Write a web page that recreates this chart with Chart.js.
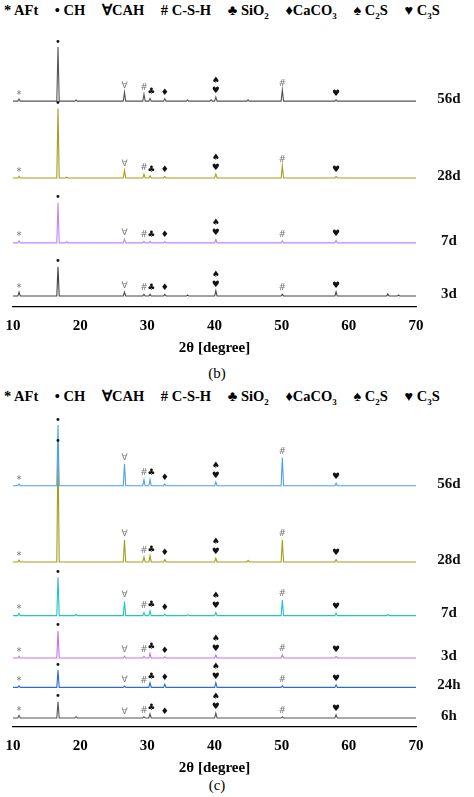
<!DOCTYPE html><html><head><meta charset="utf-8">
<script src="https://cdn.jsdelivr.net/npm/chart.js@4"></script>
<style>
body{margin:0;background:#fff;width:474px;height:797px;position:relative;overflow:hidden;font-family:"Liberation Serif",serif}
.lg{position:absolute;left:4px;font-weight:bold;font-size:14.5px;white-space:nowrap;word-spacing:0}
.lg span{margin-right:13px}
.cap{position:absolute;width:474px;text-align:center;font-size:15px;font-weight:bold}
canvas{position:absolute;left:0}
</style></head><body>
<div class="lg" style="top:2px">* AFt <span></span>• CH <span></span>∀CAH <span></span># C-S-H <span></span>♣ SiO<sub style="font-size:9px">2</sub> <span></span>♦CaCO<sub style="font-size:9px">3</sub> <span></span>♠ C<sub style="font-size:9px">2</sub>S <span></span>♥ C<sub style="font-size:9px">3</sub>S</div>
<div class="cap" style="top:365px;left:-20px;font-weight:normal">(b)</div>
<div class="lg" style="top:388px">* AFt <span></span>• CH <span></span>∀CAH <span></span># C-S-H <span></span>♣ SiO<sub style="font-size:9px">2</sub> <span></span>♦CaCO<sub style="font-size:9px">3</sub> <span></span>♠ C<sub style="font-size:9px">2</sub>S <span></span>♥ C<sub style="font-size:9px">3</sub>S</div>
<div class="cap" style="top:777px;left:-20px;font-weight:normal">(c)</div>
<canvas id="cb" style="top:0"></canvas>
<canvas id="cc" style="top:398px"></canvas>
<script>
// panel (b)
const labelsB=["56d","28d","7d","3d"];
const basesB=[77.1,48.3,24,4.1];
const colorsB=["#555555","#a0a020","#c484f4","#444444"];
const peaksB=[
 [[10.9,0.8],[16.7,20.3],[19.4,0.4],[26.6,3.3],[29.5,2.6],[30.4,1.0],[32.6,0.9],[36.0,0.4],[39.5,0.5],[40.2,1.5],[45.0,0.5],[50.1,4.2],[58.1,0.5]],
 [[10.9,0.6],[16.7,26],[18.0,0.3],[26.6,2.8],[29.5,1.5],[30.4,0.8],[32.6,0.6],[40.2,1.5],[50.1,4.5],[58.1,0.6]],
 [[10.9,0.8],[16.7,15],[18.0,0.5],[26.6,1.4],[29.5,0.6],[30.4,0.6],[32.6,0.5],[40.2,1.3],[50.1,0.8],[58.1,1.0]],
 [[10.9,1.5],[16.7,11],[26.6,1.5],[29.5,0.6],[30.4,0.7],[32.6,0.6],[36.0,0.4],[40.2,2.0],[50.1,0.7],[58.1,1.6],[65.8,0.8],[67.4,0.4]]
];
const marksB=labelsB.map(()=>[[10.9,"*"],[16.7,"•"],[26.6,"∀"],[29.5,"#"],[30.6,"♣"],[32.6,"♦"],[40.2,"♥"],[40.2,"♠"],[50.1,"#"],[58.1,"♥"]]);
// panel (c)
const labelsC=["56d","28d","7d","3d","24h","6h"];
const basesC=[77.3,52.9,35.7,22.1,12.7,2.9];
const colorsC=["#4f9fe6","#a0a020","#22c4c4","#c474e4","#2a6cd0","#555555"];
const peaksC=[
 [[10.9,0.6],[16.7,19.5],[26.6,7],[29.5,2],[30.4,2],[32.6,0.6],[40.2,1.2],[50.1,9],[58.1,0.8]],
 [[10.9,0.6],[16.7,37],[26.6,7],[29.5,1.5],[30.4,2],[32.6,0.8],[40.2,1.2],[45.0,0.5],[50.1,7],[58.1,0.8]],
 [[10.9,0.7],[16.7,12.3],[19.4,0.5],[26.6,4.5],[29.5,1.0],[30.4,1.5],[32.6,0.5],[36.0,0.3],[40.2,1.0],[50.1,5],[58.1,0.8],[65.8,0.4]],
 [[10.9,0.5],[16.7,8.7],[26.6,0.6],[29.5,0.5],[30.4,1.5],[32.6,0.4],[40.2,1.0],[50.1,1.0],[58.1,0.5]],
 [[10.9,0.5],[16.7,5.5],[26.6,0.4],[30.4,1.5],[32.6,1.0],[40.2,1.5],[50.1,0.5],[58.1,0.8]],
 [[10.9,0.8],[16.7,5.2],[19.4,0.4],[29.5,0.4],[30.4,1.3],[40.2,1.5],[50.1,0.3],[58.1,1.0]]
];
const marksC=labelsC.map(()=>[[10.9,"*"],[16.7,"•"],[26.6,"∀"],[29.5,"#"],[30.6,"♣"],[32.6,"♦"],[40.2,"♥"],[40.2,"♠"],[50.1,"#"],[58.1,"♥"]]);
const xTicks=[10,20,30,40,50,60,70];

function trace(base,peaks){
  const pts=[{x:10,y:base}];
  peaks.forEach(([p,h])=>{pts.push({x:p-0.18,y:base},{x:p,y:base+h},{x:p+0.18,y:base});});
  pts.push({x:70,y:base});
  return pts;
}
function peakH(peaks,x){let h=0;peaks.forEach(([p,v])=>{if(Math.abs(p-x)<0.5)h=Math.max(h,v);});return h;}
function make(id,h,padTop,labels,bases,colors,peaks,marks){
  const cv=document.getElementById(id);cv.width=474;cv.height=h;
  cv.style.width="474px";cv.style.height=h+"px";
  const ann={id:"ann",afterDatasetsDraw(c){
    const ctx=c.ctx,xs=c.scales.x,ys=c.scales.y;ctx.save();ctx.textAlign="center";
    labels.forEach((l,i)=>{
      ctx.fillStyle="#111";ctx.font="bold 15px 'Liberation Serif'";ctx.textBaseline="middle";
      ctx.fillText(l,449,ys.getPixelForValue(bases[i])-2);
      ctx.textBaseline="bottom";
      marks[i].forEach(([x,s])=>{
        const top=ys.getPixelForValue(bases[i]+peakH(peaks[i],x));
        let y=top-2;
        if(s==="♠")y-=10;
        const big="♥♠♣♦•".includes(s);
        ctx.fillStyle=big?"#111":"#777";
        ctx.font="9px 'DejaVu Sans'";
        if(s==="*"){ctx.font="10px 'DejaVu Sans'";y+=3;}
        if(s==="•"){ctx.font="10px 'DejaVu Sans'";y+=2;}
        ctx.fillText(s,xs.getPixelForValue(x),y);
      });
    });
    ctx.restore();}};
  new Chart(cv,{type:"line",
    data:{datasets:labels.map((l,i)=>({label:l,data:trace(bases[i],peaks[i]),borderColor:colors[i],borderWidth:1.1,pointRadius:0,tension:0}))},
    options:{responsive:false,animation:false,
      layout:{padding:{left:13,right:58,top:padTop,bottom:0}},
      plugins:{legend:{display:false},tooltip:{enabled:false}},
      scales:{
        x:{type:"linear",min:10,max:70,grid:{display:false,drawTicks:true},border:{color:"#000",width:1.2},
          afterBuildTicks:a=>{a.ticks=xTicks.map(v=>({value:v}));},
          ticks:{color:"#000",font:{family:"Liberation Serif",size:15,weight:"bold"},padding:2,maxRotation:0},
          title:{display:true,text:"2θ [degree]",color:"#000",font:{family:"Liberation Serif",size:15,weight:"bold"},padding:{top:2}}},
        y:{min:0,max:100,display:false}
      }},plugins:[ann]});
}
make("cb",361,40,labelsB,basesB,colorsB,peaksB,marksB);
make("cc",383,17,labelsC,basesC,colorsC,peaksC,marksC);
</script></body></html>
